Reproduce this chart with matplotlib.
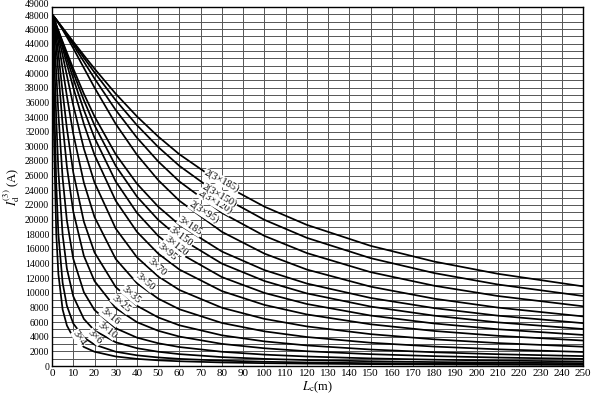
import matplotlib
matplotlib.use('Agg')
import matplotlib.pyplot as plt
import matplotlib.transforms as mtransforms

plt.rcParams['font.family'] = ['Liberation Serif', 'DejaVu Serif']
plt.rcParams['mathtext.fontset'] = 'stix'

# cable length (m)
lengths = [0, 1, 2, 3, 5, 7, 10, 15, 20, 30, 40, 50, 60, 80, 100, 120, 150, 180, 210, 250]

# short-circuit current (A) for each cable
i_3x4 = [48000, 30150, 18030, 12540, 7705, 5540, 3894, 2602, 1953, 1303, 977, 782, 652, 489, 391, 326, 261, 217, 186, 156]
i_3x6 = [48000, 36830, 24830, 17990, 11350, 8230, 5810, 3892, 2924, 1952, 1465, 1172, 977, 733, 586, 489, 391, 326, 279, 235]
i_3x10 = [48000, 42590, 33730, 26580, 17910, 13300, 9520, 6430, 4846, 3243, 2436, 1951, 1626, 1220, 976, 814, 651, 543, 465, 391]
i_3x16 = [48000, 45290, 40040, 34470, 25620, 19870, 14650, 10080, 7652, 5151, 3879, 3109, 2594, 1948, 1559, 1300, 1040, 867, 744, 625]
i_3x25 = [48000, 46450, 43550, 40010, 32960, 27210, 21090, 15040, 11600, 7910, 5986, 4812, 4021, 3025, 2424, 2022, 1620, 1350, 1158, 973]
i_3x35 = [48000, 46870, 44970, 42610, 37380, 32450, 26440, 19700, 15510, 10780, 8221, 6637, 5560, 4195, 3367, 2812, 2254, 1880, 1613, 1356]
i_3x50 = [48000, 47100, 45790, 44210, 40600, 36860, 31710, 25030, 20350, 14610, 11310, 9201, 7749, 5881, 4734, 3961, 3181, 2657, 2281, 1919]
i_3x70 = [48000, 47200, 46180, 45030, 42430, 39670, 35590, 29680, 25060, 18760, 14840, 12230, 10380, 7956, 6440, 5407, 4355, 3645, 3134, 2640]
i_3x95 = [48000, 47250, 46380, 45430, 43390, 41250, 38020, 33050, 28840, 22560, 18320, 15350, 13170, 10230, 8346, 7042, 5701, 4787, 4125, 3482]
i_3x120 = [48000, 47270, 46460, 45620, 43840, 42010, 39260, 34950, 31170, 25190, 20910, 17770, 15420, 12140, 9982, 8468, 6894, 5809, 5018, 4246]
i_3x150 = [48000, 47290, 46510, 45730, 44120, 42500, 40080, 36290, 32880, 27320, 23130, 19960, 17500, 13980, 11610, 9914, 8121, 6875, 5957, 5055]
i_3x185 = [48000, 47300, 46550, 45800, 44290, 42800, 40600, 37170, 34080, 28900, 24890, 21760, 19270, 15630, 13100, 11260, 9296, 7906, 6875, 5856]
i_2x95 = [48000, 47650, 47250, 46820, 45910, 44930, 43390, 40700, 38020, 33050, 28840, 25380, 22560, 18320, 15350, 13170, 10840, 9194, 7977, 6778]
i_2x120 = [48000, 47660, 47270, 46880, 46040, 45180, 43840, 41550, 39260, 34950, 31170, 27930, 25190, 20910, 17770, 15420, 12820, 10960, 9557, 8160]
i_2x150 = [48000, 47660, 47290, 46910, 46120, 45320, 44120, 42080, 40080, 36290, 32880, 29900, 27320, 23130, 19960, 17500, 14730, 12690, 11130, 9563]
i_2x185 = [48000, 47670, 47300, 46920, 46170, 45420, 44290, 42420, 40600, 37170, 34080, 31330, 28900, 24890, 21760, 19270, 16410, 14260, 12590, 10880]

cable_names = ['3×4', '3×6', '3×10', '3×16', '3×25', '3×35', '3×50', '3×70',
               '3×95', '3×120', '3×150', '3×185',
               '2(3×95)', '2(3×120)', '2(3×150)', '2(3×185)']
series = [i_3x4, i_3x6, i_3x10, i_3x16, i_3x25, i_3x35, i_3x50, i_3x70,
          i_3x95, i_3x120, i_3x150, i_3x185, i_2x95, i_2x120, i_2x150, i_2x185]

# where each name sits on the chart (x, y, rotation)
label_pos = [(12.7, 3800, -55), (20.2, 3950, -45), (25.9, 4900, -38), (27.3, 6700, -38),
             (32.5, 8450, -40), (37.2, 9700, -40), (43.8, 11450, -40), (49.4, 13500, -42),
             (54.1, 15550, -40), (58.4, 16400, -38), (60.7, 17600, -36), (65.0, 19100, -33),
             (71.6, 21000, -33), (76.7, 22400, -31), (79.1, 23350, -30), (80.0, 25250, -28)]

fig = plt.figure(figsize=(6, 3.97), dpi=100)
ax = fig.add_axes([0.0867, 0.078, 0.885, 0.904])

for vals in series:
    ax.plot(lengths, vals, color='black', lw=1.25, zorder=3)

for name, (lx, ly, rot) in zip(cable_names, label_pos):
    ax.text(lx, ly, name, rotation=rot, fontsize=7.5, ha='center', va='center',
            rotation_mode='anchor', zorder=4,
            bbox=dict(facecolor='white', edgecolor='none', pad=0.4))

ax.set_xlim(0, 250)
ax.set_ylim(0, 49000)
ax.set_xticks(range(0, 251, 10))
ax.set_yticks(list(range(0, 48001, 2000)) + [49000])
ax.set_yticks(range(0, 49001, 1000), minor=True)
ax.grid(which='both', color='#555555', lw=0.7, zorder=1)
ax.tick_params(which='both', length=0, pad=2)
ax.tick_params(axis='y', labelsize=7)
ax.tick_params(axis='x', labelsize=8)
for s in ax.spines.values():
    s.set_linewidth(1.0)

# nudge the top label (49000) up a little so it clears 48000
ylabels = ax.get_yticklabels()
shift_up = mtransforms.ScaledTranslation(0, 2.5 / 72, fig.dpi_scale_trans)
ylabels[-1].set_transform(ylabels[-1].get_transform() + shift_up)
shift_dn = mtransforms.ScaledTranslation(0, -1.0 / 72, fig.dpi_scale_trans)
ylabels[-2].set_transform(ylabels[-2].get_transform() + shift_dn)

ax.set_xlabel(r'$L_{\mathrm{c}}$(m)', fontsize=9, labelpad=1)
ax.set_ylabel(r'$I_{\mathrm{d}}^{(3)}$ (A)', fontsize=9, labelpad=2)

fig.savefig('out.png', dpi=100)
